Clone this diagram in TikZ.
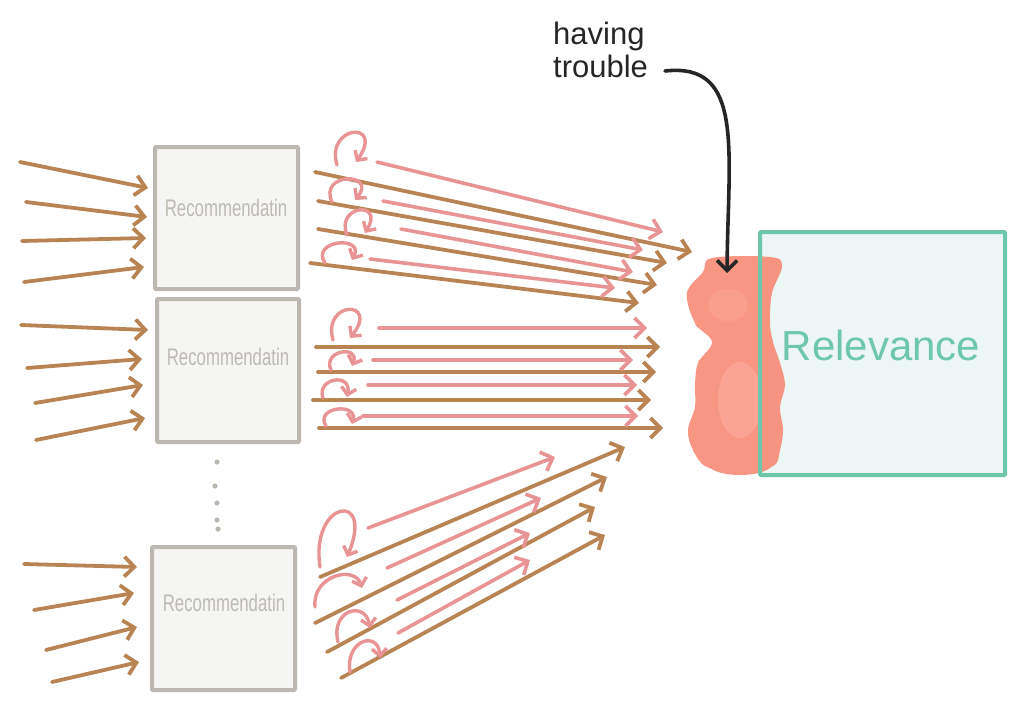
\documentclass[tikz,border=0pt]{standalone}
\usepackage{fontspec}
\setmainfont{Liberation Sans}
\usetikzlibrary{arrows.meta}
\definecolor{brownc}{RGB}{184,132,84}
\definecolor{pinkc}{RGB}{233,148,148}
\definecolor{boxline}{RGB}{188,184,177}
\definecolor{boxfill}{RGB}{245,245,244}
\definecolor{boxtext}{RGB}{190,186,180}
\definecolor{tealc}{RGB}{110,199,170}
\definecolor{tealfill}{RGB}{236,246,244}
\definecolor{blobc}{RGB}{248,140,120}
\definecolor{blobl}{RGB}{252,190,178}
\definecolor{inkc}{RGB}{38,38,38}
\tikzset{
  brownarrow/.style={draw=brownc, line width=3.8pt, line cap=round, -{Straight Barb[length=10pt,width=20pt,line width=3.8pt]}},
  pinkarrow/.style={draw=pinkc, line width=3.6pt, line cap=round, -{Straight Barb[length=10pt,width=20pt,line width=3.6pt]}},
  pinkloop/.style={draw=pinkc, line width=3.4pt, line cap=round, -{Straight Barb[length=7pt,width=15pt,line width=3.4pt]}},
  recbox/.style={draw=boxline, fill=boxfill, line width=4pt, rounded corners=1pt},
  rectext/.style={text=boxtext, font=\fontsize{24}{26}\selectfont, xscale=0.7},
  dotc/.style={fill=boxline, draw=none},
}
\begin{document}
\begin{tikzpicture}[x=1pt,y=-1pt]
\useasboundingbox (0,0) rectangle (1024,720);
% recommendation boxes
\draw[recbox] (155,147) rectangle (298,289);
\draw[recbox] (157,299) rectangle (299,442);
\draw[recbox] (152,547) rectangle (295,690);
\node[rectext] (r1) at (226,208) {Recommendatin};
\node[rectext] (r2) at (228,357) {Recommendatin};
\node[rectext] (r3) at (224,603) {Recommendatin};
% dots
\foreach \dx/\dy [count=\i] in {217/462,215/486,217/503,217/520,218/529}
  \fill[dotc] (\dx,\dy) circle (2.6pt);
% input arrows
\foreach \sx/\sy/\ex/\ey [count=\i] in {
  20/162/148/188, 26/202/147/217, 22/241/146/238, 24/282/144/267,
  21/325/148/330, 27/368/142/359, 35/403/143/385, 36/440/145/418,
  24/564/137/567, 34/610/134/593, 46/650/137/627, 52/682/139/662}{
  \coordinate (ins\i) at (\sx,\sy);
  \coordinate (ine\i) at (\ex,\ey);
  \draw[brownarrow] (ins\i) -- (ine\i);
}
% output brown arrows
\foreach \sx/\sy/\ex/\ey [count=\i] in {
  315/172/692/252, 318/201/667/263, 318/229/657/285, 310/263/639/303,
  316/347/660/347, 318/372/656/372, 313/400/651/400, 319/428/663/428,
  320/577/625/447, 315/623/607/477, 327/652/595/507, 341/678/605/535}{
  \coordinate (obs\i) at (\sx,\sy);
  \coordinate (obe\i) at (\ex,\ey);
  \draw[brownarrow] (obs\i) -- (obe\i);
}
% output pink arrows
\foreach \sx/\sy/\ex/\ey [count=\i] in {
  377/162/663/232, 383/201/643/250, 401/229/633/272, 370/259/615/288,
  379/328/647/328, 373/360/633/360, 368/385/637/385, 363/416/638/416,
  368/528/555/457, 387/568/541/498, 397/600/530/533, 398/633/530/560}{
  \coordinate (ops\i) at (\sx,\sy);
  \coordinate (ope\i) at (\ex,\ey);
  \draw[pinkarrow] (ops\i) -- (ope\i);
}
% self loops
\foreach \ax/\ay/\bx/\by/\cx/\cy/\ex/\ey [count=\i] in {
  337/165/325/125/385/120/356/162,
  332/202/318/172/378/172/355/200,
  347/235/335/205/385/200/365/233,
  325/263/310/240/365/235/352/260,
  333/340/322/300/380/300/350/338,
  331/370/322/350/360/345/352/366,
  323/398/316/378/352/372/347/397,
  326/426/314/407/358/402/352/424,
  320/567/310/500/375/490/347/557,
  315/607/312/575/355/565/362/588,
  338/642/330/610/365/600/370/628,
  350/672/345/640/378/630/380/658}{
  \coordinate (ls\i) at (\ax,\ay);
  \coordinate (le\i) at (\ex,\ey);
  \draw[pinkloop] (ls\i) .. controls (\bx,\by) and (\cx,\cy) .. (le\i);
}
% relevance box fill
\fill[tealfill] (760,232) rectangle (1005,475);
% blob
\begin{scope}[transparency group, opacity=0.92]
\fill[blobc] plot[smooth cycle, tension=0.6] coordinates {
  (712,258) (770,257) (782,266) (772,293) (770,323) (773,342) (780,363)
  (785,385) (780,407) (783,430) (780,450) (773,466) (740,470) (707,467)
  (693,450) (688,430) (695,407) (695,385) (698,363) (712,342) (695,323)
  (687,293) (703,272)};
\foreach \lx/\rx/\yy in {705/780/268, 687/772/293, 695/770/323, 712/773/342,
  698/780/363, 695/785/385, 695/780/407, 688/783/430, 693/780/450, 707/773/463}
  \fill[blobc] ({(\lx+\rx)/2},\yy) ellipse ({(\rx-\lx)/2} and 12);
\end{scope}
\fill[blobl, opacity=0.4] (740,400) ellipse (22 and 38);
\fill[blobl, opacity=0.25] (728,305) ellipse (20 and 16);
% relevance border and text
\node[draw=tealc, line width=4pt, minimum width=245pt, minimum height=243pt, inner sep=0pt, rounded corners=1pt] (rel) at (882.5,353.5) {};
\node[text=tealc, font=\fontsize{42}{48}\selectfont] (reltext) at (881,345) {Relevance};
% annotation
\node[text=inkc, font=\fontsize{31}{33}\selectfont, align=left, anchor=north west, inner sep=0pt] (trouble) at (553,22) {having\\trouble};
\coordinate (annstart) at (665,71);
\coordinate (annend) at (727,273);
\draw[draw=inkc, line width=3.6pt, line cap=round, -{Straight Barb[length=10pt,width=20pt,line width=3.6pt]}] (annstart) .. controls (745,62) and (728,150) .. (annend);
\end{tikzpicture}
\end{document}
